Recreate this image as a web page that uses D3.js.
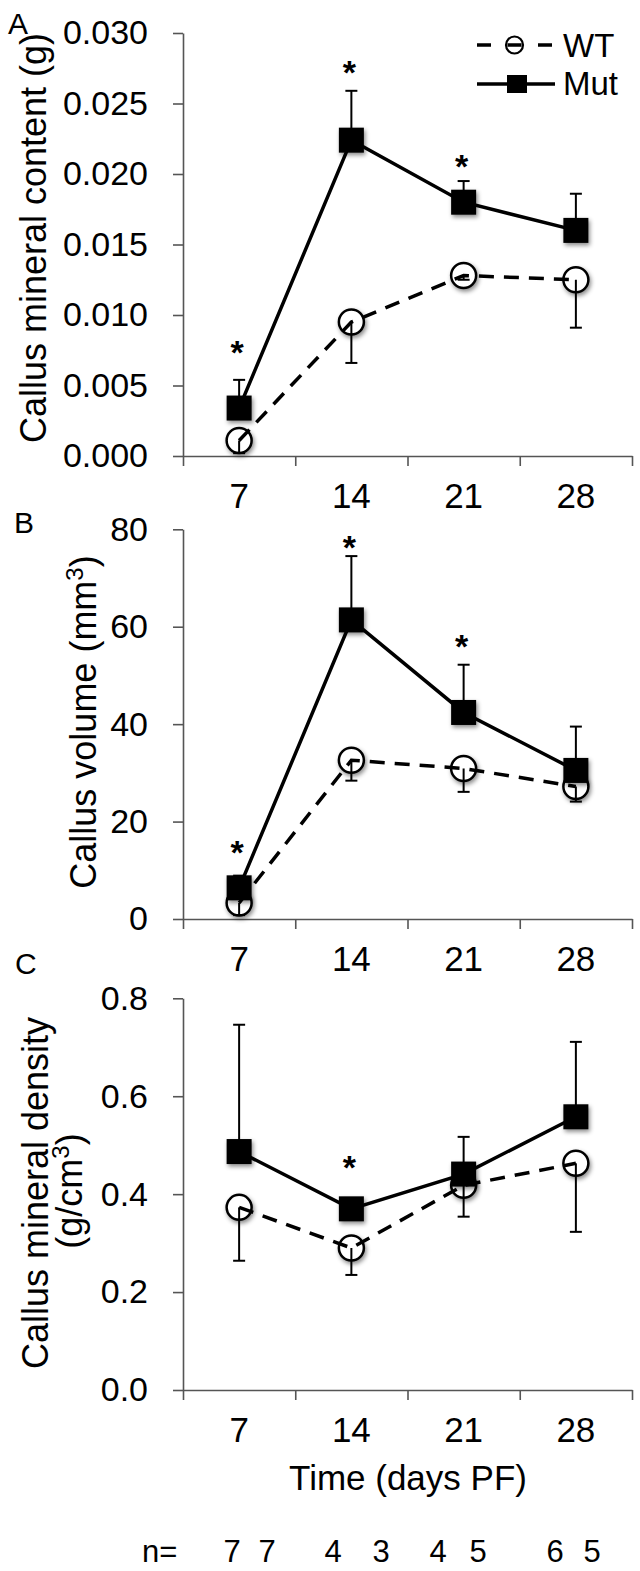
<!DOCTYPE html>
<html><head><meta charset="utf-8">
<script src="https://cdn.jsdelivr.net/npm/d3@7"></script>
<style>
html,body{margin:0;padding:0;background:#fff;}
svg{display:block;font-family:"Liberation Sans",Arial,Helvetica,sans-serif;}
</style></head>
<body>
<svg id="chart" width="640" height="1571"></svg>
<script>
// ---------- data ----------
const days = ["7", "14", "21", "28"];
const nLabels = ["7", "7", "4", "3", "4", "5", "6", "5"];

// Panel A: callus mineral content (g)
const wtContent     = [0.0011, 0.0095, 0.0128, 0.0125];
const wtContentErr  = [0.0009, 0.0029, 0.0003, 0.0034];
const mutContent    = [0.0034, 0.0224, 0.0180, 0.0160];
const mutContentErr = [0.0020, 0.0035, 0.0015, 0.0026];
const contentStars  = [0.0080, 0.0279, 0.0212, null];
const contentTicks  = [0, 0.005, 0.010, 0.015, 0.020, 0.025, 0.030];

// Panel B: callus volume (mm3)
const wtVolume     = [3.3, 32.6, 30.9, 27.2];
const wtVolumeErr  = [2.5, 4.2, 4.8, 3.1];
const mutVolume    = [6.4, 61.4, 42.4, 30.5];
const mutVolumeErr = [2.5, 13.1, 9.8, 9.0];
const volumeStars  = [15.6, 78.2, 57.9, null];
const volumeTicks  = [0, 20, 40, 60, 80];

// Panel C: callus mineral density (g/cm3)
const wtDensity     = [0.373, 0.290, 0.418, 0.463];
const wtDensityErr  = [0.109, 0.055, 0.064, 0.140];
const mutDensity    = [0.487, 0.370, 0.441, 0.558];
const mutDensityErr = [0.259, 0.010, 0.076, 0.153];
const densityStars  = [null, 0.474, null, null];
const densityTicks  = [0, 0.2, 0.4, 0.6, 0.8];

// ---------- layout ----------
const nX = [232, 267, 333, 381, 438, 478, 555, 592];

// ---------- drawing ----------
const svg = d3.select("#chart");
const AX = "#555";
const defs = svg.append("defs");
const f = defs.append("filter").attr("id", "sh").attr("x", "-50%").attr("y", "-50%").attr("width", "200%").attr("height", "200%");
f.append("feDropShadow").attr("dx", 1.5).attr("dy", 2.5).attr("stdDeviation", 2).attr("flood-color", "#000").attr("flood-opacity", 0.45);

const L = 183, R = 632;
const xb = d3.scaleBand().domain(days).range([L, R]);
const xl = d3.scaleLinear().domain([0, days.length]).range([L, R]);
const cx = d => xb(d) + xb.bandwidth() / 2;

function panel(cfg) {
  const y = d3.scaleLinear().domain([0, cfg.max]).range([cfg.bottom, cfg.top]);
  const g = svg.append("g");

  const ya = g.append("g").attr("transform", `translate(${L},0)`)
    .call(d3.axisLeft(y).tickValues(cfg.ticks).tickFormat(cfg.fmt).tickSize(10).tickSizeOuter(0).tickPadding(25));
  const xa = g.append("g").attr("transform", `translate(0,${cfg.bottom})`)
    .call(d3.axisBottom(xl).tickValues(d3.range(days.length + 1)).tickFormat("").tickSize(10).tickSizeOuter(0));
  const xlab = g.append("g").attr("transform", `translate(0,${cfg.bottom})`)
    .call(d3.axisBottom(xb).tickSize(0).tickPadding(27));
  xlab.select(".domain").remove();
  [ya, xa].forEach(a => {
    a.select(".domain").attr("stroke", AX).attr("stroke-width", 1.6);
    a.selectAll(".tick line").attr("stroke", AX).attr("stroke-width", 1.6);
  });
  ya.attr("font-family", null).attr("font-size", null);
  ya.selectAll("text").attr("font-size", 34).attr("fill", "#000");
  xlab.attr("font-family", null).attr("font-size", null);
  xlab.selectAll("text").attr("font-size", 35).attr("fill", "#000");

  const idx = d3.range(days.length);
  const line = d3.line().x(i => cx(days[i])).y(i => y(cfg.v[i]));
  const lineW = d3.line().x(i => cx(days[i])).y(i => y(cfg.w[i]));

  g.append("g").selectAll("circle").data(idx).join("circle")
    .attr("cx", i => cx(days[i])).attr("cy", i => y(cfg.w[i])).attr("r", 12.5)
    .attr("fill", "#fff").attr("stroke", "#000").attr("stroke-width", 2.5)
    .attr("filter", "url(#sh)");
  g.append("path").attr("d", lineW(idx)).attr("fill", "none").attr("stroke", "#000")
    .attr("stroke-width", 3.5).attr("stroke-dasharray", "15,10");
  const we = g.append("g").attr("stroke", "#000").attr("stroke-width", 2);
  idx.forEach(i => {
    const x = cx(days[i]), y0 = y(cfg.w[i]), y1 = y(cfg.w[i] - cfg.we[i]);
    we.append("line").attr("x1", x).attr("x2", x).attr("y1", y0).attr("y2", y1);
    we.append("line").attr("x1", x - 6).attr("x2", x + 6).attr("y1", y1).attr("y2", y1);
  });
  g.append("path").attr("d", line(idx)).attr("fill", "none").attr("stroke", "#000").attr("stroke-width", 3.5);
  const me = g.append("g").attr("stroke", "#000").attr("stroke-width", 2);
  idx.forEach(i => {
    const x = cx(days[i]), y0 = y(cfg.v[i]), y1 = y(cfg.v[i] + cfg.ve[i]);
    me.append("line").attr("x1", x).attr("x2", x).attr("y1", y0).attr("y2", y1);
    me.append("line").attr("x1", x - 6).attr("x2", x + 6).attr("y1", y1).attr("y2", y1);
  });
  const s = 25;
  g.append("g").selectAll("rect").data(idx).join("rect")
    .attr("x", i => cx(days[i]) - s / 2).attr("y", i => y(cfg.v[i]) - s / 2)
    .attr("width", s).attr("height", s).attr("fill", "#000").attr("filter", "url(#sh)");
  g.append("g").selectAll("text").data(idx.filter(i => cfg.stars[i] != null)).join("text")
    .attr("x", i => cx(days[i]) - 2).attr("y", i => y(cfg.stars[i])).attr("dy", "0.62em")
    .attr("text-anchor", "middle").attr("font-size", 34).attr("font-weight", "bold").text("*");
}

panel({top: 33, bottom: 456, max: 0.030, ticks: contentTicks, fmt: d3.format(".3f"),
  w: wtContent, we: wtContentErr, v: mutContent, ve: mutContentErr, stars: contentStars});
panel({top: 529.3, bottom: 919, max: 80, ticks: volumeTicks, fmt: d3.format("d"),
  w: wtVolume, we: wtVolumeErr, v: mutVolume, ve: mutVolumeErr, stars: volumeStars});
panel({top: 998.3, bottom: 1390, max: 0.8, ticks: densityTicks, fmt: d3.format(".1f"),
  w: wtDensity, we: wtDensityErr, v: mutDensity, ve: mutDensityErr, stars: densityStars});

[["A", 8, 34], ["B", 14, 533], ["C", 15, 974]].forEach(([t, x, y]) =>
  svg.append("text").attr("x", x).attr("y", y).attr("font-size", 30).text(t));

svg.append("text").attr("transform", "translate(46,238) rotate(-90)").attr("text-anchor", "middle")
  .attr("font-size", 36).text("Callus mineral content (g)");
const tb = svg.append("text").attr("transform", "translate(96,722) rotate(-90)").attr("text-anchor", "middle")
  .attr("font-size", 36);
tb.append("tspan").text("Callus volume (mm");
tb.append("tspan").attr("font-size", 24).attr("dy", -13).text("3");
tb.append("tspan").attr("dy", 13).text(")");
svg.append("text").attr("transform", "translate(48,1193) rotate(-90)").attr("text-anchor", "middle")
  .attr("font-size", 36).text("Callus mineral density");
const tc = svg.append("text").attr("transform", "translate(82,1191) rotate(-90)").attr("text-anchor", "middle")
  .attr("font-size", 36);
tc.append("tspan").text("(g/cm");
tc.append("tspan").attr("font-size", 24).attr("dy", -13).text("3");
tc.append("tspan").attr("dy", 13).text(")");

svg.append("text").attr("x", 408).attr("y", 1490).attr("text-anchor", "middle").attr("font-size", 35)
  .text("Time (days PF)");

svg.append("text").attr("x", 142).attr("y", 1562).attr("font-size", 31).text("n=");
svg.append("g").selectAll("text").data(nLabels).join("text")
  .attr("x", (d, i) => nX[i]).attr("y", 1562).attr("text-anchor", "middle").attr("font-size", 31).text(d => d);

const lg = svg.append("g");
lg.append("line").attr("x1", 477).attr("x2", 552).attr("y1", 45).attr("y2", 45)
  .attr("stroke", "#000").attr("stroke-width", 3.5).attr("stroke-dasharray", "14,16.5");
lg.append("circle").attr("cx", 514.5).attr("cy", 45).attr("r", 8.5).attr("fill", "none")
  .attr("stroke", "#000").attr("stroke-width", 2.2);
lg.append("text").attr("x", 563).attr("y", 57).attr("font-size", 33).text("WT");
lg.append("line").attr("x1", 477).attr("x2", 555).attr("y1", 84).attr("y2", 84)
  .attr("stroke", "#000").attr("stroke-width", 3.5);
lg.append("rect").attr("x", 507).attr("y", 75).attr("width", 20).attr("height", 18).attr("fill", "#000");
lg.append("text").attr("x", 563).attr("y", 95).attr("font-size", 33).text("Mut");
</script>
</body></html>
